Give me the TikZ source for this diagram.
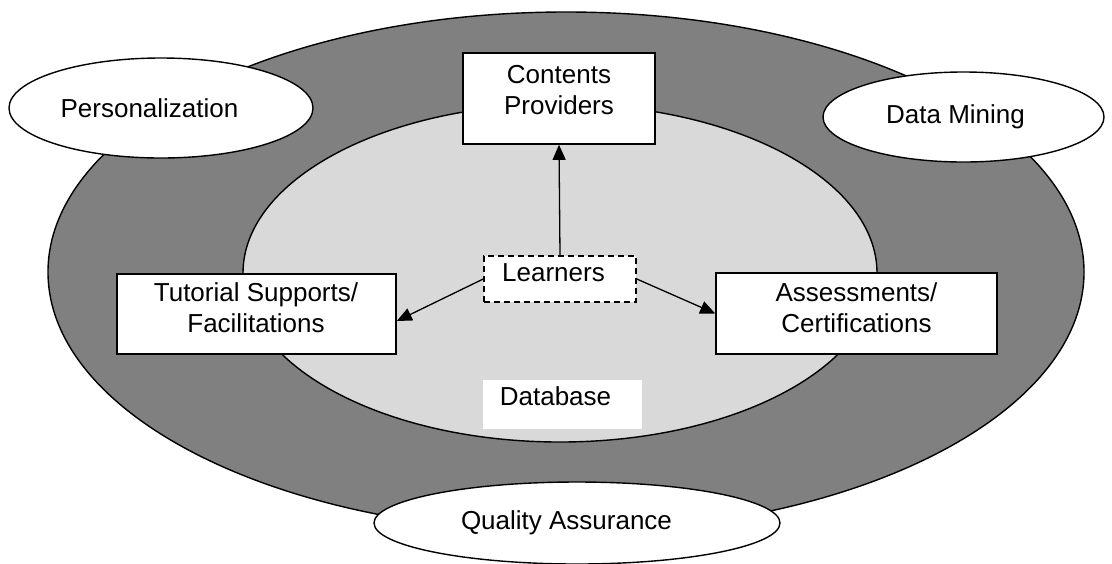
\documentclass[tikz,border=0pt]{standalone}
\usepackage{fontspec}
\setmainfont{Liberation Sans}
\usetikzlibrary{arrows.meta,shapes.geometric}
\definecolor{ringgray}{RGB}{128,128,128}
\definecolor{coregray}{RGB}{217,217,217}
\tikzset{
  bubble/.style={ellipse,draw=black,line width=0.7pt,fill=white,inner sep=0pt},
  boxnode/.style={rectangle,draw=black,line width=0.8pt,fill=white,inner sep=0pt},
  boxtext/.style={align=center,inner sep=0pt}
}
\begin{document}
\begin{tikzpicture}[x=0.5pt,y=-0.5pt,font=\fontsize{13}{15.5}\selectfont]
          \useasboundingbox (0,0) rectangle (1112,563);
          % rings
          \draw[fill=ringgray,line width=0.7pt] (566,272) ellipse [x radius=518, y radius=260];
          \draw[fill=coregray,line width=0.7pt] (560,273) ellipse [x radius=317, y radius=169];
          \begin{scope}[every node/.style={bubble}]
            \node[minimum width=152pt,minimum height=50pt] (pers) at (161,108) {Personalization\hspace*{11.5pt}};
            \node[minimum width=140.5pt,minimum height=45pt] (mine) at (963.5,117) {Data Mining\hspace*{8pt}};
            \node[minimum width=203pt,minimum height=41pt] (qual) at (577,523) {Quality Assurance\hspace*{10.5pt}};
          \end{scope}
          \begin{scope}[every node/.style={boxnode}]
            \node[minimum width=96pt,minimum height=45.5pt] (cont) at (559,98.5) {};
            \node[minimum width=76pt,minimum height=23pt,dash pattern=on 3pt off 2pt] (learn) at (560,279) {};
            \node[minimum width=139.5pt,minimum height=40pt] (tut) at (256.5,314) {};
            \node[minimum width=140.5pt,minimum height=40.5pt] (ass) at (856.5,313.5) {};
            \node[minimum width=79.5pt,minimum height=24.5pt,draw=none] (db) at (562.5,404.5) {};
          \end{scope}
          \begin{scope}[every node/.style={boxtext}]
            \node (cont-txt) at (559,90) {Contents\\Providers};
            \node (learn-txt) at (553.5,272.5) {Learners};
            \node (tut-txt) at (256,308) {Tutorial Supports/\\Facilitations};
            \node (ass-txt) at (856.5,308) {Assessments/\\Certifications};
            \node (db-txt) at (555.5,396.5) {Database};
          \end{scope}
          \begin{scope}[every edge/.style={draw=black,line width=0.65pt,-{Triangle[length=7.5pt,width=6.5pt]}}]
            \path (learn.north) edge (cont.south);
            \path (learn.west) edge ([yshift=-3.5pt]tut.east);
            \path (learn.east) edge (ass.west);
          \end{scope}
        \end{tikzpicture}
\end{document}
